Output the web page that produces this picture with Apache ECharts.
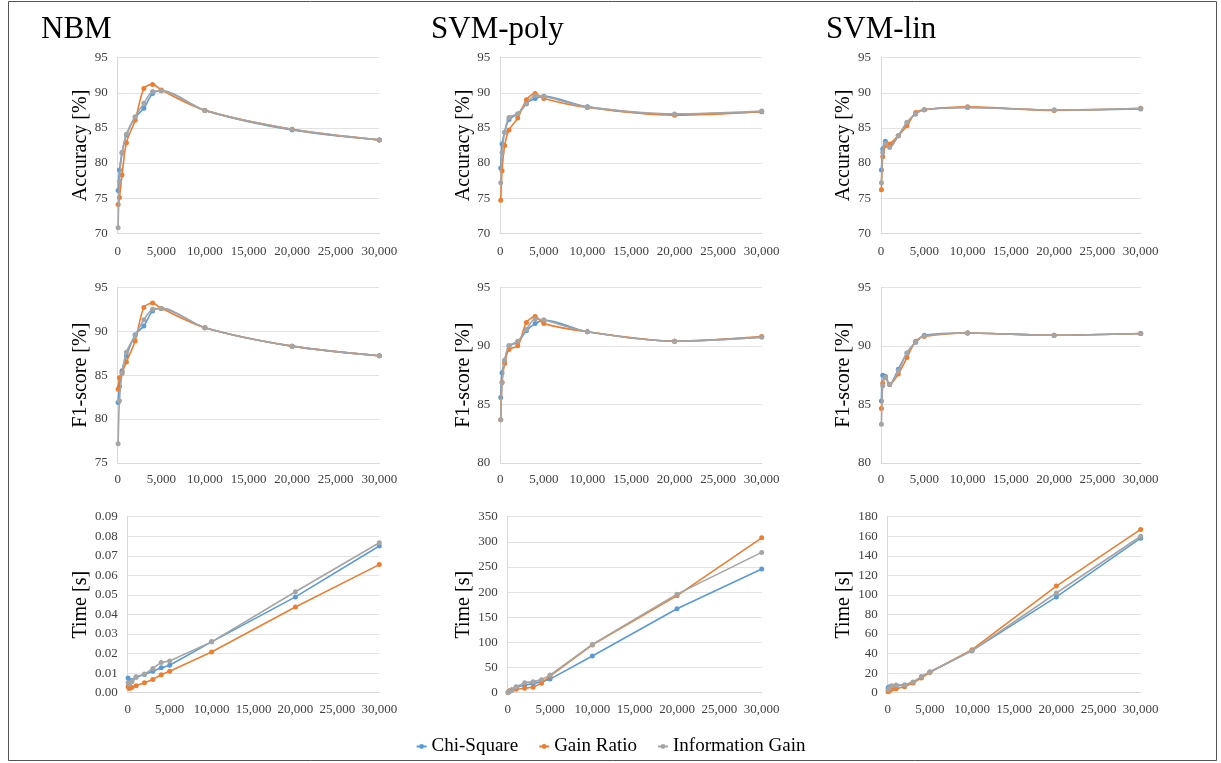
<!DOCTYPE html>
<html><head><meta charset="utf-8">
<script src="https://cdn.jsdelivr.net/npm/echarts@6/dist/echarts.min.js"></script>
<style>html,body{margin:0;padding:0;background:#fff}#c{width:1221px;height:763px}</style>
</head><body><div id="c"></div>
<script>
const xValues = [50, 200, 500, 1000, 2000, 3000, 4000, 5000, 10000, 20000, 30000];
const methods = ['Chi-Square', 'Gain Ratio', 'Information Gain'];
const panelTitles = ['NBM', 'SVM-poly', 'SVM-lin'];

// NBM
const nbmAccChi  = [76.1, 79.0, 81.5, 84.0, 86.5, 87.8, 89.9, 90.3, 87.5, 84.7, 83.3];
const nbmAccGain = [74.1, 75.1, 78.3, 82.9, 86.1, 90.6, 91.2, 90.4, 87.5, 84.8, 83.3];
const nbmAccInfo = [70.8, 77.4, 81.4, 84.1, 86.6, 88.5, 90.2, 90.3, 87.5, 84.8, 83.3];
const nbmF1Chi  = [81.9, 83.7, 85.5, 87.2, 89.6, 90.6, 92.3, 92.6, 90.4, 88.3, 87.2];
const nbmF1Gain = [83.4, 84.7, 85.3, 86.5, 88.9, 92.7, 93.2, 92.6, 90.4, 88.3, 87.2];
const nbmF1Info = [77.2, 82.1, 85.2, 87.6, 89.5, 91.3, 92.5, 92.6, 90.4, 88.3, 87.2];
const nbmTimeChi  = [0.0075, 0.0058, 0.0062, 0.0079, 0.0093, 0.011, 0.0127, 0.014, 0.026, 0.049, 0.075];
const nbmTimeGain = [0.0030, 0.0022, 0.0027, 0.0036, 0.0051, 0.0068, 0.0092, 0.011, 0.0208, 0.0438, 0.0655];
const nbmTimeInfo = [0.0051, 0.0043, 0.0056, 0.0082, 0.0095, 0.0124, 0.0155, 0.0162, 0.026, 0.0516, 0.0767];
// SVM-poly
const polyAccChi  = [79.3, 82.7, 84.4, 86.2, 87.0, 88.5, 89.2, 89.5, 88.0, 86.9, 87.3];
const polyAccGain = [74.7, 78.9, 82.5, 84.7, 86.4, 89.0, 89.9, 89.2, 87.9, 86.8, 87.3];
const polyAccInfo = [77.2, 81.5, 84.4, 86.5, 87.0, 88.4, 89.6, 89.5, 88.0, 87.0, 87.4];
const polyF1Chi  = [85.6, 87.7, 88.7, 90.0, 90.3, 91.3, 91.9, 92.2, 91.2, 90.4, 90.75];
const polyF1Gain = [83.7, 86.9, 88.5, 89.7, 90.0, 92.0, 92.5, 91.9, 91.2, 90.4, 90.8];
const polyF1Info = [83.7, 86.85, 88.8, 90.0, 90.4, 91.4, 92.3, 92.2, 91.2, 90.4, 90.75];
const polyTimeChi  = [1, 3, 5, 11, 15, 18, 22, 27, 73, 167, 246];
const polyTimeGain = [0.5, 4, 6, 7, 9, 11, 19, 33, 95, 193, 308];
const polyTimeInfo = [0.5, 2, 6, 12, 20, 22, 26, 35, 96, 196, 279];
// SVM-lin
const linAccChi  = [79.0, 82.0, 83.1, 82.4, 83.9, 85.7, 87.0, 87.6, 87.9, 87.55, 87.7];
const linAccGain = [76.2, 80.9, 82.5, 82.7, 83.9, 85.3, 87.2, 87.6, 88.0, 87.5, 87.8];
const linAccInfo = [77.2, 81.5, 82.8, 82.2, 83.9, 85.8, 87.0, 87.6, 87.9, 87.55, 87.75];
const linF1Chi  = [85.3, 87.5, 87.4, 86.7, 88.0, 89.4, 90.3, 90.9, 91.1, 90.9, 91.05];
const linF1Gain = [84.65, 86.8, 87.35, 86.7, 87.6, 89.0, 90.4, 90.8, 91.1, 90.9, 91.05];
const linF1Info = [83.3, 86.6, 87.3, 86.7, 87.85, 89.4, 90.3, 90.85, 91.1, 90.9, 91.05];
const linTimeChi  = [5, 6, 6, 7, 8, 10.5, 16, 21, 43, 98, 158];
const linTimeGain = [1, 2, 3.5, 4, 6, 10, 15, 21, 44, 109, 167];
const linTimeInfo = [3, 5, 7, 8, 8, 11, 16.5, 21.5, 43, 102, 160];

const xTickLabels = ['0', '5,000', '10,000', '15,000', '20,000', '25,000', '30,000'];

const FONT = "'Liberation Serif','Times New Roman',serif";
const colors = ['#5B9BD5', '#ED7D31', '#A5A5A5'];

const panels = [
  [
    {data:[nbmAccChi, nbmAccGain, nbmAccInfo], min:70, max:95, interval:5, name:'Accuracy [%]', smooth:true},
    {data:[polyAccChi, polyAccGain, polyAccInfo], min:70, max:95, interval:5, name:'Accuracy [%]', smooth:true},
    {data:[linAccChi, linAccGain, linAccInfo], min:70, max:95, interval:5, name:'Accuracy [%]', smooth:true}
  ],
  [
    {data:[nbmF1Chi, nbmF1Gain, nbmF1Info], min:75, max:95, interval:5, name:'F1-score [%]', smooth:true},
    {data:[polyF1Chi, polyF1Gain, polyF1Info], min:80, max:95, interval:5, name:'F1-score [%]', smooth:true},
    {data:[linF1Chi, linF1Gain, linF1Info], min:80, max:95, interval:5, name:'F1-score [%]', smooth:true}
  ],
  [
    {data:[nbmTimeChi, nbmTimeGain, nbmTimeInfo], min:0, max:0.09, interval:0.01, name:'Time [s]', smooth:false, fmt:v=>v.toFixed(2)},
    {data:[polyTimeChi, polyTimeGain, polyTimeInfo], min:0, max:350, interval:50, name:'Time [s]', smooth:false},
    {data:[linTimeChi, linTimeGain, linTimeInfo], min:0, max:180, interval:20, name:'Time [s]', smooth:false}
  ]
];

const colLeft = [[117.7, 500.3, 881], [117.7, 500.3, 881], [127.7, 507.7, 887.7]];
const colRight = [379.3, 761.7, 1140.7];
const rowTop = [57.7, 287.3, 516.7];
const rowBottom = [233.3, 463, 692.7];
const nameGaps = [[24, 27, 27], [24, 27, 27], [37, 34, 34]];
const xLabelMargins = [12, 10, 10];

const grids = [], xAxes = [], yAxes = [], series = [];
let idx = 0;
for (let r = 0; r < 3; r++) {
  for (let c = 0; c < 3; c++) {
    const p = panels[r][c];
    grids.push({left: colLeft[r][c], top: rowTop[r], width: colRight[c] - colLeft[r][c], height: rowBottom[r] - rowTop[r]});
    xAxes.push({
      type: 'value', gridIndex: idx, min: 0, max: 30000, interval: 5000,
      axisLine: {show: true, lineStyle: {color: '#d9d9d9', width: 1}},
      axisTick: {show: false}, splitLine: {show: false},
      axisLabel: {color: '#404040', fontFamily: FONT, fontSize: 13, margin: xLabelMargins[r],
        formatter: v => xTickLabels[Math.round(v / 5000)]}
    });
    yAxes.push({
      type: 'value', gridIndex: idx, min: p.min, max: p.max, interval: p.interval,
      name: p.name, nameLocation: 'middle', nameRotate: 90, nameGap: nameGaps[r][c],
      nameTextStyle: {fontFamily: FONT, fontSize: 20, color: '#000'},
      axisLine: {show: true, lineStyle: {color: '#d9d9d9', width: 1}},
      axisTick: {show: false},
      splitLine: {show: true, lineStyle: {color: '#e3e3e3', width: 1}},
      axisLabel: {color: '#404040', fontFamily: FONT, fontSize: 13, margin: 10,
        formatter: p.fmt ? p.fmt : (v => String(v))}
    });
    for (let m = 0; m < 3; m++) {
      series.push({
        type: 'line', name: methods[m], xAxisIndex: idx, yAxisIndex: idx,
        data: xValues.map((x, i) => [x, p.data[m][i]]),
        smooth: p.smooth ? 0.3 : false,
        symbol: 'circle', symbolSize: 5, showSymbol: true,
        lineStyle: {color: colors[m], width: 1.6},
        itemStyle: {color: colors[m]},
        animation: false, z: 2 + m
      });
    }
    idx++;
  }
}

const chart = echarts.init(document.getElementById('c'), null, {renderer: 'canvas'});
chart.setOption({
  backgroundColor: '#fff',
  animation: false,
  title: [
    {text: panelTitles[0], left: 36, top: 9, textStyle: {fontFamily: FONT, fontSize: 31, fontWeight: 'normal', color: '#000'}},
    {text: panelTitles[1], left: 426, top: 9, textStyle: {fontFamily: FONT, fontSize: 31, fontWeight: 'normal', color: '#000'}},
    {text: panelTitles[2], left: 821, top: 9, textStyle: {fontFamily: FONT, fontSize: 31, fontWeight: 'normal', color: '#000'}}
  ],
  legend: {
    data: methods, bottom: 2, left: 'center', itemGap: 20, itemWidth: 10, itemHeight: 6,
    textStyle: {fontFamily: FONT, fontSize: 19, color: '#000'}
  },
  graphic: [{type: 'rect', shape: {x: 8.5, y: 1.5, width: 1208, height: 759}, style: {fill: 'none', stroke: '#555', lineWidth: 1}, silent: true}],
  grid: grids, xAxis: xAxes, yAxis: yAxes, series: series
});
</script></body></html>
